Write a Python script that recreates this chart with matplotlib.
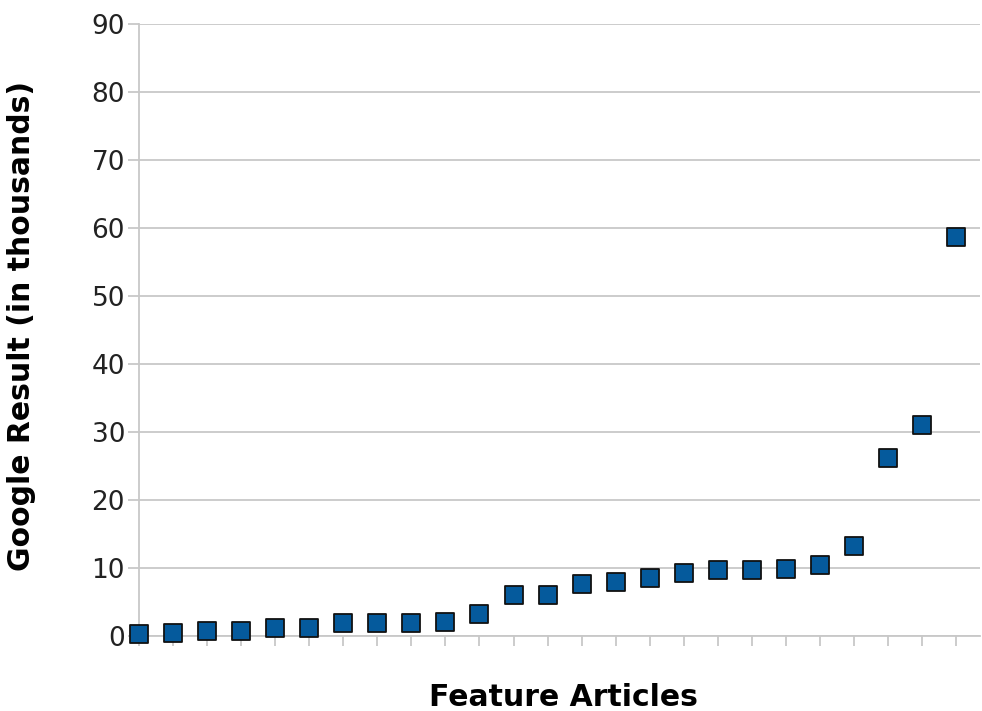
import numpy as np
import matplotlib
matplotlib.use('Agg')
import matplotlib.pyplot as plt

# Google results (in thousands) for each feature article, sorted
articles = list(range(25))
results = [0.3, 0.4, 0.7, 0.7, 1.2, 1.2, 1.9, 1.9, 1.9, 2.1, 3.3,
           6.0, 6.0, 7.7, 8.0, 8.5, 9.2, 9.7, 9.7, 9.9, 10.4,
           13.3, 26.2, 31.0, 58.6]
yticks = list(range(0, 100, 10))

fig = plt.figure(figsize=(9.82, 7.11), dpi=100)
ax = fig.add_axes([0.1415, 0.1055, 0.8565, 0.861])

grid_col = '#c8c8c8'
ax.scatter(articles, results, marker='s', s=160, color='#055a9c',
           edgecolors='#111111', linewidths=1.3, zorder=3, clip_on=False)

ax.set_xlim(0, 24.7)
ax.set_ylim(0, 90)
ax.set_yticks(yticks)
ax.set_xticks(articles)
ax.set_xticklabels([])
ax.yaxis.grid(True, color=grid_col, linewidth=1.3)
ax.set_axisbelow(True)

for side in ['top', 'right']:
    ax.spines[side].set_visible(False)
for side in ['left', 'bottom']:
    ax.spines[side].set_color(grid_col)
    ax.spines[side].set_linewidth(1.3)

ax.tick_params(axis='y', length=8, width=1.3, color=grid_col,
               labelsize=19, labelcolor='#222222', pad=2)
ax.tick_params(axis='x', length=7, width=1.3, color=grid_col)

# axis titles placed like the original
fig.text(0.5735, 1 - 697 / 711, 'Feature Articles', fontsize=21.5,
         fontweight='bold', ha='center', va='center')
fig.text(22 / 982, 1 - 326 / 711, 'Google Result (in thousands)',
         fontsize=21.5, fontweight='bold', rotation=90,
         ha='center', va='center')

fig.savefig('out.png', dpi=100)
